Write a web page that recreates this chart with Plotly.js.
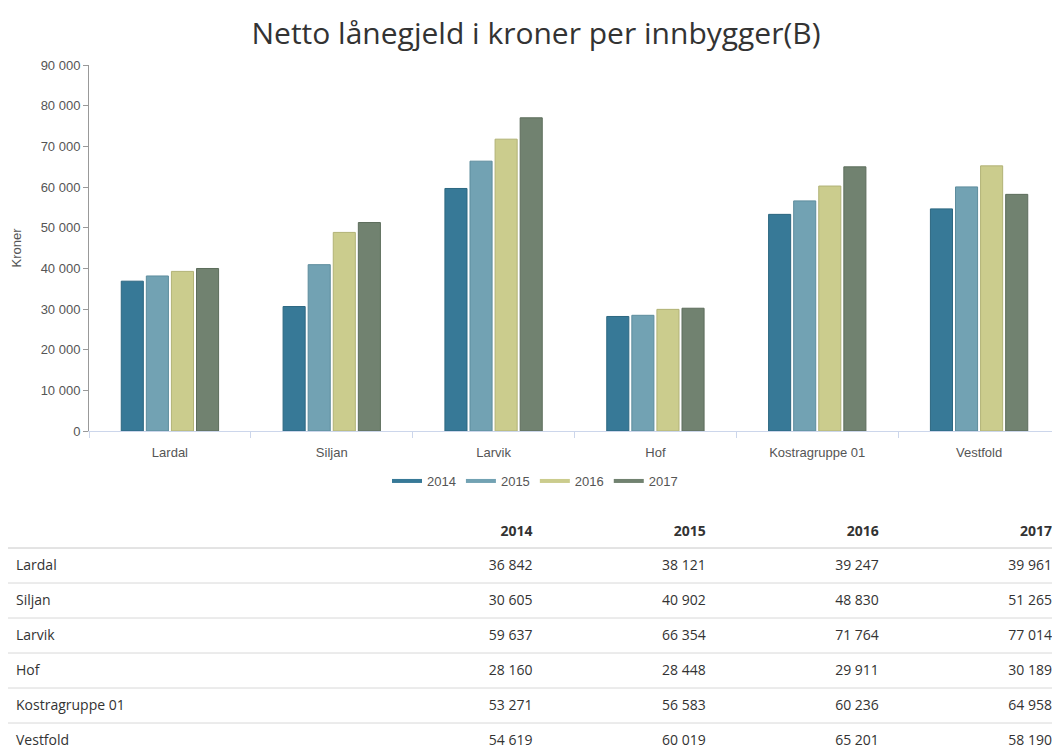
<!DOCTYPE html>
<html>
<head>
<meta charset="utf-8">
<script src="https://cdn.plot.ly/plotly-3.0.1.min.js"></script>
<style>
html,body{margin:0;padding:0;overflow:hidden;background:#fff;}
#chart{width:1060px;height:780px;}
</style>
</head>
<body>
<div id="chart"></div>
<script>
const categories = ["Lardal", "Siljan", "Larvik", "Hof", "Kostragruppe 01", "Vestfold"];
const years = ["2014", "2015", "2016", "2017"];
const values2014 = [36842, 30605, 59637, 28160, 53271, 54619];
const values2015 = [38121, 40902, 66354, 28448, 56583, 60019];
const values2016 = [39247, 48830, 71764, 29911, 60236, 65201];
const values2017 = [39961, 51265, 77014, 30189, 64958, 58190];
const yTicks = [0, 10000, 20000, 30000, 40000, 50000, 60000, 70000, 80000, 90000];

const series = [values2014, values2015, values2016, values2017];
const fills = ["#377997", "#72a2b3", "#cbcc8d", "#718270"];
const borders = ["#2c6780", "#5d8c9d", "#b1b276", "#5d6d5c"];

const W = 1060, H = 780, ML = 8;
const yPx = p => (H - p) / (H - 65);
const axisFont = {family: "Liberation Sans, Arial, sans-serif", size: 13, color: "#555"};

const traces = [];
series.forEach((vals, i) => {
  traces.push({
    type: "bar", x: categories, y: vals, name: years[i], showlegend: false,
    marker: {color: fills[i], line: {color: borders[i], width: 1}},
    hoverinfo: "x+y+name"
  });
});
series.forEach((vals, i) => {
  traces.push({
    type: "scatter", mode: "lines", x: [null], y: [null], name: years[i],
    line: {color: fills[i], width: 4}, hoverinfo: "skip"
  });
});

const fmt = v => v.toString().replace(/\B(?=(\d{3})+(?!\d))/g, " ");
const tableTop = 513, headH = 38, rowH = 35, lineOffset = 3;
traces.push({
  type: "table",
  domain: {x: [0, 1], y: [0, yPx(tableTop)]},
  columnwidth: [359, 173, 173, 173, 173],
  header: {
    values: [""].concat(years.map(y => "<b>" + y + "</b>")),
    align: ["left", "right", "right", "right", "right"],
    height: headH,
    fill: {color: "#fff"},
    line: {color: "#fff", width: 0},
    font: {family: "Open Sans", size: 14, color: "#333"}
  },
  cells: {
    values: [categories].concat(series.map(s => s.map(fmt))),
    align: ["left", "right", "right", "right", "right"],
    height: rowH,
    fill: {color: "#fff"},
    line: {color: "#fff", width: 0},
    font: {family: "Open Sans", size: 14, color: "#333"}
  }
});

const shapes = [];
for (let k = 0; k <= categories.length; k++) {
  const py = tableTop + headH - lineOffset + rowH * k;
  shapes.push({
    type: "line", xref: "paper", yref: "paper", x0: 0, x1: 1,
    y0: yPx(py), y1: yPx(py),
    line: {color: k === 0 ? "#c8c8c8" : "#d8d8d8", width: 1}
  });
}

const layout = {
  width: W, height: H,
  margin: {l: ML, r: 0, t: 65, b: 0},
  paper_bgcolor: "#fff", plot_bgcolor: "#fff",
  separators: ", ",
  font: axisFont,
  title: {
    text: "Netto lånegjeld i kroner per innbygger(B)",
    font: {family: "Open Sans", size: 30, color: "#333", weight: 500},
    xref: "container", yref: "container", x: 536 / W, y: 1 - 33 / H,
    xanchor: "center", yanchor: "middle"
  },
  barmode: "group",
  bargap: 0.38,
  bargroupgap: 0.12,
  xaxis: {
    domain: [(89 - ML) / (W - ML), 1],
    range: [-0.5, 5.5],
    showgrid: false, zeroline: false,
    showline: true, linecolor: "#ccd6eb", linewidth: 1,
    ticks: "outside", tickson: "boundaries", ticklen: 6, tickcolor: "#ccd6eb",
    ticklabelstandoff: 9,
    tickfont: axisFont,
    fixedrange: true
  },
  yaxis: {
    domain: [yPx(431), 1],
    range: [0, 90000],
    tickvals: yTicks,
    tickformat: ",d",
    showgrid: false, zeroline: false,
    showline: true, linecolor: "#999", linewidth: 1,
    ticks: "outside", ticklen: 5, tickcolor: "#999",
    tickfont: axisFont,
    title: {text: "Kroner", font: axisFont, standoff: 16},
    fixedrange: true
  },
  legend: {
    orientation: "h", xref: "paper", yref: "paper",
    x: (535 - ML) / (W - ML), xanchor: "center",
    y: yPx(481), yanchor: "middle",
    font: axisFont,
    itemwidth: 30, tracegroupgap: 0
  },
  shapes: shapes
};

Plotly.newPlot("chart", traces, layout, {displayModeBar: false});
</script>
</body>
</html>
